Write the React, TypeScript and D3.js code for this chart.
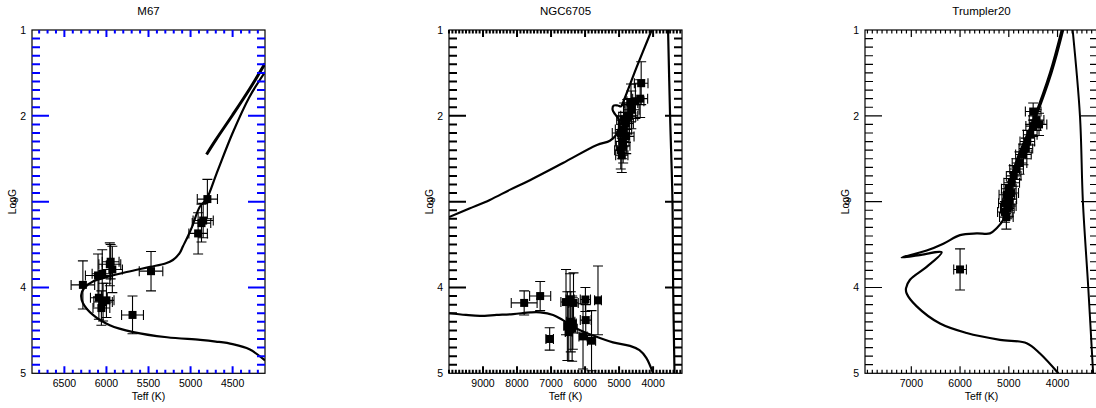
import React from 'react';
import * as d3 from 'd3';

type Pt = [number, number];
type Obs = [number, number, number, number];

const panelTitles = ['M67', 'NGC6705', 'Trumpler20'];
const yMajorTicks = [1, 2, 3, 4, 5];
const m67XTicks = [6500, 6000, 5500, 5000, 4500];
const ngcXTicks = [9000, 8000, 7000, 6000, 5000, 4000];
const trXTicks = [7000, 6000, 5000, 4000];

const m67Iso: Pt[] = [
  [4115, 4.85], [4300, 4.72], [4500, 4.66], [4700, 4.63], [4885, 4.61], [5280, 4.58],
  [5680, 4.52], [5960, 4.44], [6160, 4.32], [6280, 4.18], [6300, 4.09], [6260, 4.0],
  [6160, 3.93], [6000, 3.88], [5760, 3.82], [5480, 3.76], [5300, 3.72], [5210, 3.68],
  [5130, 3.6], [5090, 3.52], [5030, 3.4], [4985, 3.3], [4890, 3.06], [4810, 2.97],
  [4690, 2.67], [4500, 2.2], [4300, 1.78], [4115, 1.49],
];
const m67Agb: Pt[] = [[4810, 2.45], [4700, 2.28], [4500, 1.99], [4300, 1.69], [4115, 1.39]];
const m67Obs: Obs[] = [
  [6280, 3.97, 140, 0.28], [6100, 3.86, 150, 0.25], [6050, 3.84, 120, 0.28],
  [5960, 3.73, 130, 0.25], [5930, 3.79, 120, 0.27], [5950, 3.70, 100, 0.2],
  [6090, 4.12, 100, 0.25], [6040, 4.17, 110, 0.22], [6060, 4.24, 100, 0.2],
  [6000, 4.15, 90, 0.2], [5470, 3.81, 140, 0.23], [5690, 4.32, 130, 0.22],
  [4800, 2.97, 120, 0.23], [4850, 3.22, 120, 0.2], [4870, 3.25, 110, 0.22],
  [4910, 3.37, 110, 0.24],
];

const ngcMs: Pt[] = [
  [10000, 4.30], [9500, 4.32], [9090, 4.33], [8600, 4.32], [8110, 4.31], [7600, 4.29],
  [7320, 4.29], [6940, 4.32], [6650, 4.38], [6240, 4.48], [5760, 4.56], [5180, 4.64],
  [4680, 4.68], [4400, 4.73], [4200, 4.82], [4000, 5.0],
];
const ngcGiant: Pt[] = [
  [10000, 3.18], [9400, 3.08], [8800, 2.98], [8200, 2.86], [7620, 2.75], [6650, 2.55],
  [5650, 2.34], [5270, 2.29], [5080, 2.22], [4990, 2.12], [5010, 2.04], [5120, 1.98],
  [5190, 1.93], [5160, 1.88], [5040, 1.88], [4940, 1.89], [4860, 1.82], [4480, 1.43],
  [4040, 1.0],
];
const ngcCool: Pt[] = [[3560, 1.0], [3500, 2.0], [3430, 3.0], [3410, 4.0], [3370, 5.0]];
const ngcObs: Obs[] = [
  [7790, 4.18, 380, 0.14], [7320, 4.10, 310, 0.17], [7040, 4.60, 110, 0.13],
  [6560, 4.17, 150, 0.38], [6440, 4.14, 120, 0.3], [6340, 4.18, 140, 0.35],
  [6520, 4.45, 100, 0.4], [6420, 4.40, 120, 0.35], [6380, 4.48, 150, 0.38],
  [6480, 4.52, 100, 0.33], [6360, 4.42, 100, 0.3], [5990, 4.14, 150, 0.14],
  [6060, 4.57, 120, 0.38], [5980, 4.38, 160, 0.18], [5810, 4.62, 120, 0.35],
  [5620, 4.15, 100, 0.4],
  [4350, 1.62, 200, 0.25], [4380, 1.80, 220, 0.22], [4520, 1.83, 250, 0.2],
  [4640, 1.93, 230, 0.22], [4760, 2.01, 250, 0.2], [4800, 2.09, 220, 0.22],
  [4870, 2.16, 240, 0.2], [4790, 2.24, 230, 0.2], [4910, 2.30, 200, 0.2],
  [4950, 2.40, 180, 0.22], [4880, 2.35, 200, 0.2], [4920, 2.46, 180, 0.2],
  [4950, 2.20, 250, 0.2], [4700, 2.00, 250, 0.2], [4650, 1.85, 200, 0.22],
  [4850, 2.05, 220, 0.2],
];

const trIso: Pt[] = [
  [3984, 5.0], [4360, 4.77], [4633, 4.65], [5180, 4.61], [5864, 4.53], [6411, 4.42],
  [6889, 4.22], [7095, 4.07], [7109, 4.01], [7027, 3.91], [6685, 3.76], [6377, 3.59],
  [6800, 3.62], [7197, 3.65], [6685, 3.57], [6343, 3.49], [6001, 3.39], [5659, 3.37],
  [5386, 3.37], [5249, 3.31], [5113, 3.21], [5044, 3.06], [5044, 2.94], [4839, 2.52],
  [4497, 2.05], [4155, 1.50], [3915, 1.0],
];
const trAgb: Pt[] = [[5010, 2.85], [4800, 2.50], [4470, 2.05], [4125, 1.50], [3885, 1.0]];
const trCool: Pt[] = [[3690, 1.0], [3540, 2.0], [3480, 3.0], [3370, 4.0], [3270, 5.0]];
const trObs: Obs[] = [
  [6000, 3.79, 130, 0.24],
  [4430, 2.05, 150, 0.12], [4380, 2.10, 160, 0.13], [4500, 2.12, 150, 0.12],
  [4560, 2.22, 140, 0.12], [4620, 2.30, 150, 0.13], [4650, 2.38, 140, 0.12],
  [4700, 2.45, 160, 0.12], [4780, 2.55, 150, 0.13], [4840, 2.62, 140, 0.12],
  [4900, 2.70, 150, 0.12], [4940, 2.78, 160, 0.13], [5000, 2.85, 150, 0.12],
  [5040, 2.92, 160, 0.12], [4990, 2.97, 150, 0.13], [5060, 3.02, 150, 0.12],
  [5030, 3.08, 140, 0.12], [5080, 3.12, 150, 0.12], [5050, 3.18, 140, 0.14],
  [5000, 3.05, 150, 0.12], [4950, 2.90, 150, 0.13], [4500, 1.95, 160, 0.1],
];

const panels = [
  { title: panelTitles[0], domain: [6885, 4115], majors: m67XTicks, lines: [m67Iso, m67Agb], widths: [2.2, 3], obs: m67Obs },
  { title: panelTitles[1], domain: [10000, 3150], majors: ngcXTicks, lines: [ngcMs, ngcGiant, ngcCool], widths: [2.2, 2.2, 2.2], obs: ngcObs },
  { title: panelTitles[2], domain: [7950, 3170], majors: trXTicks, lines: [trIso, trAgb, trCool], widths: [2.2, 2.2, 2], obs: trObs },
];
const panelLefts = [32, 449, 865];
const PW = 233;
const TOP = 30;
const PH = 343.3;
const FONT = "'Liberation Sans', Arial, Helvetica, sans-serif";
const tickColors = ['blue', '#000', '#000'];
const tickWidths = [2, 2, 1.2];

function scalesFor(i: number) {
  const left = panelLefts[i];
  const x = d3.scaleLinear().domain(panels[i].domain).range([left, left + PW]);
  const y = d3.scaleLinear().domain([1, 5]).range([TOP, TOP + PH]);
  return { x, y, left };
}

function tickPath(i: number): string {
  const cfg = panels[i];
  const { x, y, left } = scalesFor(i);
  const right = left + PW;
  const bottom = TOP + PH;
  const lo = Math.min(cfg.domain[0], cfg.domain[1]);
  const hi = Math.max(cfg.domain[0], cfg.domain[1]);
  const minors = d3.range(Math.ceil(lo / 100) * 100, hi + 1, 100).filter(v => !cfg.majors.includes(v));
  const yMinors = d3.range(11, 50).filter(v => v % 10 !== 0).map(v => v / 10);
  const tp = d3.path();
  const seg = (x1: number, y1: number, x2: number, y2: number) => { tp.moveTo(x1, y1); tp.lineTo(x2, y2); };
  cfg.majors.forEach((v: number) => { seg(x(v), bottom, x(v), bottom - 7); seg(x(v), TOP, x(v), TOP + 7); });
  yMajorTicks.slice(1, 4).forEach(v => { seg(left, y(v), left + 17, y(v)); seg(right, y(v), right - 17, y(v)); });
  minors.forEach(v => { seg(x(v), bottom, x(v), bottom - 3.5); seg(x(v), TOP, x(v), TOP + 3.5); });
  yMinors.forEach(v => { seg(left, y(v), left + 8, y(v)); seg(right, y(v), right - 8, y(v)); });
  return tp.toString();
}

function Panel({ idx }: { idx: number }) {
  const cfg = panels[idx];
  const { x, y, left } = scalesFor(idx);
  const right = left + PW;
  const bottom = TOP + PH;
  const line = d3.line<Pt>().x(d => x(d[0])).y(d => y(d[1])).curve(d3.curveCatmullRom.alpha(0.5));
  const clipId = `clip${idx}`;
  const cx = (left + right) / 2;
  return (
    <g>
      <defs>
        <clipPath id={clipId}>
          <rect x={left} y={TOP} width={PW} height={PH} />
        </clipPath>
      </defs>
      <text x={cx} y={15} textAnchor="middle" fontSize={11.5} fontFamily={FONT}>{cfg.title}</text>
      <g clipPath={`url(#${clipId})`}>
        {cfg.lines.map((l: Pt[], i: number) => (
          <path key={i} d={line(l) || ''} fill="none" stroke="#000" strokeWidth={cfg.widths[i]} strokeLinejoin="round" />
        ))}
        {cfg.obs.map((o: Obs, i: number) => {
          const px = x(o[0]), py = y(o[1]);
          const x1 = x(o[0] + o[2]), x2 = x(o[0] - o[2]);
          const y1 = y(o[1] - o[3]), y2 = y(o[1] + o[3]);
          return (
            <g key={i} stroke="#000" strokeWidth={1.1}>
              <line x1={x1} x2={x2} y1={py} y2={py} />
              <line x1={x1} x2={x1} y1={py - 5} y2={py + 5} />
              <line x1={x2} x2={x2} y1={py - 5} y2={py + 5} />
              <line x1={px} x2={px} y1={y1} y2={y2} />
              <line x1={px - 5} x2={px + 5} y1={y1} y2={y1} />
              <line x1={px - 5} x2={px + 5} y1={y2} y2={y2} />
              <rect x={px - 4} y={py - 4} width={8} height={8} fill="#000" stroke="none" />
            </g>
          );
        })}
      </g>
      <rect x={left} y={TOP} width={PW} height={PH} fill="none" stroke="#000" strokeWidth={1.2} />
      <g fontFamily={FONT} fontSize={10.5} fill="#000">
        {cfg.majors.map((v: number) => (
          <text key={`xl${v}`} x={x(v)} y={387} textAnchor="middle">{v}</text>
        ))}
        {yMajorTicks.map(v => (
          <text key={`yl${v}`} x={v === 3 ? left - 15 : left - 6} y={y(v)} dy="0.35em" textAnchor="end">{v}</text>
        ))}
        <text x={cx} y={400} textAnchor="middle">Teff (K)</text>
        <text transform={`translate(${left - 16.5},${(TOP + bottom) / 2}) rotate(-90)`} textAnchor="middle" fontSize={10.3}>LogG</text>
      </g>
    </g>
  );
}

export default function App() {
  return (
    <div style={{ position: 'absolute', left: 0, top: 0 }}>
      <svg width={1096} height={408}>
        {panels.map((p, i) => (
          <Panel key={i} idx={i} />
        ))}
        {panels.map((p, i) => (
          <path key={`tk${i}`} d={tickPath(i)} stroke={tickColors[i]} strokeWidth={tickWidths[i]} fill="none" />
        ))}
      </svg>
    </div>
  );
}
